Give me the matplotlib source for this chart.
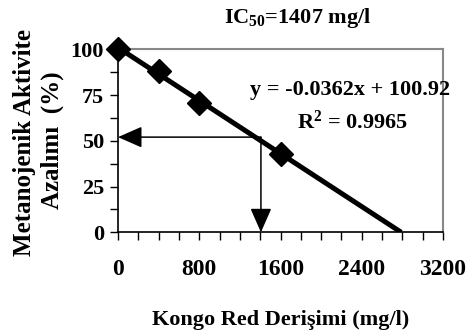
import numpy as np
import matplotlib.pyplot as plt

# %% data
conc = [0, 400, 800, 1600]          # Kongo Red derisimi (mg/l)
inhib = [100, 88.3, 70.5, 42.8]     # metanojenik aktivite azalimi (%)
slope, intercept = -0.0362, 100.92
r2 = 0.9965
ic50 = 1407
arrow_y = 52

xticks = [0, 800, 1600, 2400, 3200]
yticks = [0, 25, 50, 75, 100]

# %% fonts
plt.rcParams['font.family'] = 'Liberation Serif'
plt.rcParams['font.weight'] = 'bold'
plt.rcParams['mathtext.fontset'] = 'custom'
plt.rcParams['mathtext.rm'] = 'Liberation Serif:bold'
plt.rcParams['mathtext.it'] = 'Liberation Serif:bold'
plt.rcParams['mathtext.default'] = 'rm'

fig = plt.figure(figsize=(4.67, 3.34), dpi=100)
ax = fig.add_axes([0.2527, 0.3045, 0.696, 0.548])

# fitted line up to y = 0
x_end = -intercept / slope
xf = np.array([0, x_end])
ax.plot(xf, slope * xf + intercept, color='black', lw=3.6, solid_capstyle='butt', zorder=3)
ax.plot(conc, inhib, linestyle='none', marker='D', ms=12, color='black', zorder=4, clip_on=False)

# IC50 arrows
arw = dict(arrowstyle='-|>,head_length=0.75,head_width=0.33', color='black',
           lw=1.1, shrinkA=0, shrinkB=0, mutation_scale=20)
ax.annotate('', xy=(0, arrow_y), xytext=(ic50, arrow_y), arrowprops=arw, zorder=2)
ax.annotate('', xy=(ic50, 0), xytext=(ic50, arrow_y), arrowprops=arw, zorder=2)

ax.set_xlim(0, 3200)
ax.set_ylim(0, 100)
ax.set_xticks(xticks)
ax.set_yticks(yticks)
ax.set_xticks(np.arange(0, 3201, 200), minor=True)
ax.set_yticks(np.arange(0, 101, 12.5), minor=True)
ax.tick_params(axis='x', which='both', direction='out', length=6, width=1, pad=13, labelsize=17)
ax.tick_params(axis='y', which='both', direction='out', length=6, width=1, pad=4, labelsize=16)

for s in ['top', 'right']:
    ax.spines[s].set_color('#888888')
    ax.spines[s].set_linewidth(1.5)
for s in ['left', 'bottom']:
    ax.spines[s].set_color('black')
    ax.spines[s].set_linewidth(1.2)

# axis titles
fig.text(0.6, 0.042, 'Kongo Red Derişimi (mg/l)', ha='center', va='center', fontsize=16)
fig.text(0.0535, 0.572, 'Metanojenik Aktivite', rotation=90, ha='center', va='center', fontsize=18)
fig.text(0.112, 0.58, 'Azalımı  (%)', rotation=90, ha='center', va='center', fontsize=18)

fig.text(0.638, 0.946, 'IC$_{50}$=1407 mg/l', ha='center', va='center', fontsize=16)
ax.text(0.714, 0.778, 'y = -0.0362x + 100.92', transform=ax.transAxes, ha='center', va='center', fontsize=16)
ax.text(0.72, 0.603, 'R$^{2}$ = 0.9965', transform=ax.transAxes, ha='center', va='center', fontsize=16)

plt.savefig('out.png', dpi=100, facecolor='w')
